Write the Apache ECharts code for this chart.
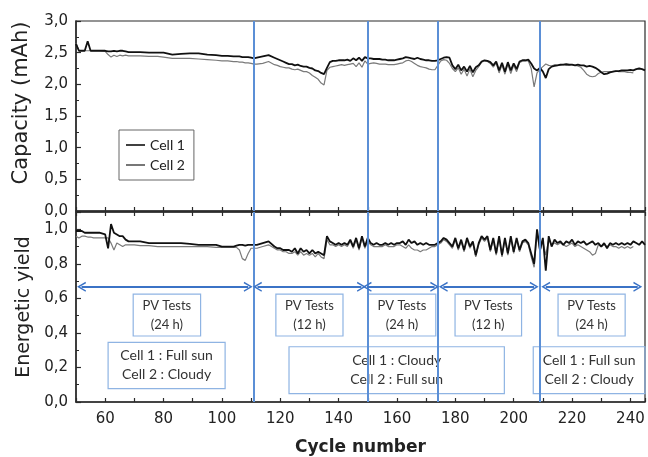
<!DOCTYPE html>
<html>
<head>
<meta charset="utf-8">
<script src="https://cdn.jsdelivr.net/npm/echarts@6/dist/echarts.min.js"></script>
<style>html,body{margin:0;padding:0;background:#fff;overflow:hidden}#c{width:648px;height:457px}</style>
</head>
<body>
<div id="c"></div>
<script>
// ---- data ----
const cycles = [50,51,52,53,54,55,56,58,60,61,62,63,64,65,66,67,68,70,72,75,78,80,83,86,89,92,95,98,100,102,104,105,106,107,108,109,110,111,112,114,116,118,
119,120,121,122,123,124,125,126,127,128,
129,130,131,132,133,134,135,136,137,138,
139,140,141,142,143,144,145,146,147,148,
149,150,151,152,153,154,155,156,157,158,
159,160,161,162,163,164,165,166,167,168,
169,170,171,172,173,174,175,176,177,178,
179,180,181,182,183,184,185,186,187,188,
189,190,191,192,193,194,195,196,197,198,
199,200,201,202,203,204,205,206,207,208,
209,210,211,212,213,214,215,216,217,218,
219,220,221,222,223,224,225,226,227,228,
229,230,231,232,233,234,235,236,237,238,
239,240,241,242,243,244,245];

const capCell1 = [2.64,2.53,2.53,2.53,2.68,2.53,2.53,2.53,2.53,2.52,2.52,2.53,2.52,2.53,2.53,2.52,2.51,2.51,2.51,2.50,2.50,2.50,2.47,2.48,2.49,2.49,2.47,2.46,2.45,2.45,2.44,2.44,2.44,2.43,2.43,2.43,2.42,2.41,2.42,2.44,2.46,2.42,
2.40,2.38,2.36,2.34,2.32,2.32,2.30,2.31,2.29,2.28,
2.28,2.26,2.25,2.22,2.21,2.18,2.16,2.26,2.35,2.37,
2.37,2.38,2.38,2.38,2.39,2.37,2.41,2.38,2.42,2.37,
2.43,2.41,2.41,2.40,2.40,2.40,2.39,2.39,2.38,2.38,
2.38,2.39,2.40,2.41,2.43,2.42,2.41,2.40,2.42,2.40,
2.39,2.38,2.38,2.37,2.37,2.38,2.40,2.42,2.43,2.42,
2.30,2.24,2.31,2.22,2.28,2.20,2.29,2.19,2.27,2.30,
2.36,2.38,2.37,2.35,2.30,2.36,2.22,2.34,2.20,2.35,
2.22,2.33,2.24,2.36,2.38,2.38,2.39,2.33,2.25,2.22,
2.26,2.20,2.10,2.24,2.28,2.29,2.30,2.31,2.31,2.32,
2.31,2.31,2.30,2.31,2.30,2.30,2.28,2.29,2.28,2.26,
2.23,2.19,2.16,2.17,2.19,2.20,2.21,2.21,2.22,2.22,
2.22,2.23,2.22,2.24,2.25,2.24,2.22];

const capCell2 = [2.65,2.53,2.53,2.53,2.53,2.53,2.53,2.53,2.52,2.47,2.43,2.46,2.44,2.46,2.45,2.46,2.45,2.45,2.45,2.44,2.44,2.43,2.41,2.41,2.41,2.40,2.39,2.38,2.37,2.37,2.36,2.36,2.35,2.35,2.34,2.34,2.33,2.32,2.32,2.33,2.36,2.31,
2.30,2.28,2.27,2.26,2.26,2.24,2.23,2.24,2.22,2.20,
2.20,2.18,2.14,2.11,2.08,2.02,1.99,2.22,2.27,2.28,
2.29,2.30,2.31,2.30,2.31,2.32,2.33,2.28,2.34,2.27,
2.37,2.32,2.33,2.34,2.33,2.32,2.32,2.32,2.31,2.31,
2.31,2.32,2.33,2.34,2.37,2.38,2.36,2.33,2.30,2.28,
2.27,2.26,2.24,2.23,2.23,2.30,2.37,2.39,2.38,2.33,
2.25,2.20,2.26,2.16,2.24,2.13,2.24,2.12,2.22,2.28,
2.35,2.37,2.36,2.33,2.27,2.34,2.18,2.31,2.16,2.32,
2.17,2.30,2.20,2.34,2.37,2.37,2.37,2.25,1.96,2.18,
2.24,2.28,2.32,2.30,2.29,2.31,2.30,2.30,2.31,2.30,
2.30,2.31,2.30,2.29,2.27,2.22,2.16,2.13,2.12,2.13,
2.17,2.19,2.20,2.20,2.20,2.20,2.21,2.20,2.20,2.20,
2.19,2.19,2.18,null,null,null,null];

const yieldCell1 = [0.99,0.99,0.99,0.98,0.98,0.98,0.98,0.98,0.97,0.89,1.03,0.98,0.97,0.96,0.96,0.94,0.93,0.93,0.93,0.92,0.92,0.92,0.92,0.92,0.915,0.91,0.91,0.91,0.90,0.90,0.90,0.905,0.91,0.91,0.905,0.91,0.91,0.91,0.91,0.92,0.93,0.90,
0.89,0.89,0.88,0.88,0.88,0.87,0.89,0.86,0.89,0.87,
0.88,0.86,0.88,0.86,0.87,0.86,0.85,0.96,0.93,0.92,
0.91,0.92,0.91,0.92,0.91,0.94,0.90,0.95,0.89,0.96,
0.90,0.95,0.92,0.91,0.92,0.91,0.91,0.92,0.91,0.92,
0.91,0.92,0.92,0.93,0.91,0.94,0.92,0.93,0.91,0.92,
0.91,0.92,0.91,0.91,0.91,0.92,0.93,0.95,0.94,0.92,
0.90,0.95,0.89,0.94,0.88,0.95,0.90,0.93,0.85,0.92,
0.96,0.94,0.96,0.88,0.95,0.86,0.96,0.85,0.95,0.86,
0.96,0.87,0.95,0.88,0.93,0.94,0.92,0.86,0.80,1.00,
0.88,0.95,0.76,0.96,0.90,0.94,0.92,0.93,0.91,0.93,
0.92,0.94,0.91,0.93,0.92,0.93,0.91,0.92,0.93,0.91,
0.92,0.90,0.92,0.89,0.92,0.91,0.92,0.91,0.92,0.91,
0.92,0.91,0.93,0.92,0.91,0.93,0.91];

const yieldCell2 = [0.96,0.95,0.96,0.96,0.955,0.955,0.95,0.95,0.95,0.95,0.92,0.88,0.92,0.91,0.90,0.91,0.91,0.91,0.905,0.905,0.90,0.90,0.90,0.90,0.90,0.90,0.90,0.895,0.895,0.895,0.895,0.895,0.88,0.83,0.82,0.86,0.89,0.89,0.89,0.90,0.91,0.89,
0.88,0.88,0.87,0.87,0.86,0.86,0.87,0.85,0.87,0.85,
0.86,0.85,0.86,0.84,0.86,0.84,0.83,0.94,0.91,0.91,
0.90,0.91,0.90,0.91,0.90,0.93,0.89,0.94,0.88,0.95,
0.89,0.93,0.91,0.90,0.90,0.90,0.90,0.91,0.90,0.90,
0.90,0.91,0.91,0.90,0.89,0.91,0.89,0.88,0.88,0.87,
0.88,0.88,0.89,0.90,0.90,0.91,0.92,0.94,0.93,0.91,
0.89,0.94,0.88,0.93,0.87,0.94,0.89,0.92,0.84,0.91,
0.95,0.93,0.95,0.87,0.94,0.85,0.95,0.84,0.94,0.85,
0.95,0.86,0.94,0.87,0.92,0.93,0.91,0.84,0.78,0.98,
0.87,0.93,0.85,0.94,0.91,0.92,0.91,0.92,0.91,0.90,
0.91,0.92,0.90,0.91,0.90,0.89,0.88,0.87,0.85,0.86,
0.91,0.90,0.91,0.90,0.91,0.90,0.90,0.89,0.90,0.89,
0.90,0.89,0.90,null,null,null,null];

const xTickLabels = [60,80,100,120,140,160,180,200,220,240];
const capTicks = [0,0.5,1,1.5,2,2.5,3];
const yieldTicks = [0,0.2,0.4,0.6,0.8,1.0];

// annotations (in data units)
const phaseBounds = [111,150,174,209];
const arrowLevel = 0.667;
const arrowSpans = [[51.9,109],[112.2,147.8],[149.8,172.9],[175.9,207],[211,242.5]];
const pvBoxes = [[69.6,92.7,'PV Tests\n(24 h)'],[118.5,141.5,'PV Tests\n(12 h)'],[150.1,173.3,'PV Tests\n(24 h)'],[179.9,202.7,'PV Tests\n(12 h)'],[215.2,238.2,'PV Tests\n(24 h)']];
const pvBoxY = [0.624,0.382];
const cellBoxes = [[61.0,101.1,0.345,0.078,'Cell 1 : Full sun\nCell 2 : Cloudy'],[123,196.8,0.32,0.049,'Cell 1 : Cloudy\nCell 2 : Full sun'],[206.7,250,0.32,0.049,'Cell 1 : Full sun\nCell 2 : Cloudy']];

// ---- chart ----
const pairs = ys => cycles.map((c,i)=>[c, ys[i]]);
const fmtComma = v => v.toFixed(1).replace('.', ',');
const AX = '#2a2a2a';
const tickFont = {fontFamily:'DejaVu Sans', fontSize:15, color:'#222'};
const annFont = 'Lato';
const boxBorder = '#8fb4e3';
const arrowColor = '#3b73c6';
const vlineColor = '#5b8fd6';
const chevron = 'path://M0,9 L5,0 L10,9 L8.6,9.6 L5,3 L1.4,9.6 Z';

const chart = echarts.init(document.getElementById('c'), null, {renderer:'canvas'});

function xAxisCfg(grid, opts) {
  return Object.assign({
    gridIndex: grid, type:'value', min:50, max:245, interval:10,
    axisLine:{show:true, onZero:false, lineStyle:{color:AX, width:1.5}},
    axisTick:{show:true, inside:true, length:4, lineStyle:{color:AX, width:1.2}},
    axisLabel:{show:false},
    splitLine:{show:false}
  }, opts);
}

const option = {
  animation:false,
  backgroundColor:'#fff',
  grid:[
    {left:76, top:21, right:3, height:190, show:true, borderColor:AX, borderWidth:1.2, backgroundColor:'transparent'},
    {left:76, top:212, right:3, height:190, show:true, borderColor:AX, borderWidth:1.2, backgroundColor:'transparent'}
  ],
  legend:{
    data:[{name:'Cell 1', icon:'rect', itemStyle:{color:'#111'}}, {name:'Cell 2', icon:'rect', itemStyle:{color:'#555'}}],
    orient:'vertical', left:119, top:130,
    itemWidth:19, itemHeight:1.6, itemGap:6,
    padding:[8,9,8,7],
    borderColor:'#666', borderWidth:1,
    textStyle:{fontFamily:annFont, fontSize:14, color:'#222', lineHeight:14}
  },
  xAxis:[
    xAxisCfg(0, {}),
    xAxisCfg(1, {
      axisLabel:{show:true, margin:10, ...tickFont,
        formatter: v => xTickLabels.includes(v) ? String(v) : ''},
      name:'Cycle number', nameLocation:'middle', nameGap:37,
      nameTextStyle:{fontFamily:'DejaVu Sans', fontSize:17, fontWeight:'bold', color:'#222'}
    }),
    xAxisCfg(1, {position:'top'})
  ],
  yAxis:[
    {gridIndex:0, type:'value', min:0, max:3, interval:0.5,
     axisLine:{show:true, onZero:false, lineStyle:{color:AX, width:1.5}},
     axisTick:{show:true, inside:true, length:5, lineStyle:{color:AX, width:1.2}},
     minorTick:{show:true, splitNumber:2, length:3, lineStyle:{color:AX}},
     axisLabel:{margin:8, ...tickFont, formatter: v => capTicks.some(t=>Math.abs(t-v)<1e-6) ? fmtComma(v) : ''},
     splitLine:{show:false}},
    {gridIndex:1, type:'value', min:0, max:1.1, interval:0.2,
     axisLine:{show:true, onZero:false, lineStyle:{color:AX, width:1.5}},
     axisTick:{show:true, inside:true, length:5, lineStyle:{color:AX, width:1.2}},
     minorTick:{show:true, splitNumber:2, length:3, lineStyle:{color:AX}},
     axisLabel:{margin:8, ...tickFont, formatter: v => yieldTicks.some(t=>Math.abs(t-v)<1e-6) ? fmtComma(v) : ''},
     splitLine:{show:false}}
  ],
  graphic:[
    {type:'text', x:22, y:103, rotation:Math.PI/2,
     style:{text:'Capacity (mAh)', fontFamily:'DejaVu Sans', fontSize:21, fill:'#222', align:'center', verticalAlign:'middle'}},
    {type:'text', x:24, y:307, rotation:Math.PI/2,
     style:{text:'Energetic yield', fontFamily:'DejaVu Sans', fontSize:19, fill:'#222', align:'center', verticalAlign:'middle'}}
  ],
  series:[
    {name:'Cell 2', type:'line', xAxisIndex:0, yAxisIndex:0, data:pairs(capCell2),
     symbol:'none', lineStyle:{color:'#7a7a7a', width:1.2}, itemStyle:{color:'#7a7a7a'}, z:2},
    {name:'Cell 1', type:'line', xAxisIndex:0, yAxisIndex:0, data:pairs(capCell1),
     symbol:'none', lineStyle:{color:'#111', width:1.8}, itemStyle:{color:'#111'}, z:3,
     markLine:{
       silent:true, symbol:['none','none'], animation:false,
       label:{show:false},
       lineStyle:{color:vlineColor, width:2, type:'solid'},
       data: phaseBounds.map(v => ({xAxis:v}))
     }},
    {name:'Cell 2', type:'line', xAxisIndex:1, yAxisIndex:1, data:pairs(yieldCell2), clip:false,
     symbol:'none', lineStyle:{color:'#7a7a7a', width:1.2}, itemStyle:{color:'#7a7a7a'}, z:2,
     markArea:{
       silent:true,
       itemStyle:{color:'rgba(255,255,255,0)', borderColor:boxBorder, borderWidth:1.2},
       label:{show:true, position:'inside', fontFamily:annFont, fontSize:13, color:'#333', lineHeight:19},
       data: pvBoxes.map(b => [
         {xAxis:b[0], yAxis:pvBoxY[0], label:{formatter:b[2]}},
         {xAxis:b[1], yAxis:pvBoxY[1]}
       ]).concat(cellBoxes.map(b => [
         {xAxis:b[0], yAxis:b[2], label:{formatter:b[4], fontSize:14}},
         {xAxis:b[1], yAxis:b[3]}
       ]))
     }},
    {name:'Cell 1', type:'line', xAxisIndex:1, yAxisIndex:1, data:pairs(yieldCell1),
     symbol:'none', lineStyle:{color:'#111', width:1.8}, itemStyle:{color:'#111'}, z:3,
     markLine:{
       silent:true, animation:false, label:{show:false},
       symbol:['none','none'],
       lineStyle:{color:vlineColor, width:2, type:'solid'},
       data: phaseBounds.map(v => ({xAxis:v}))
     }},
    {name:'arrows', type:'line', xAxisIndex:1, yAxisIndex:1, data:[], z:4,
     markLine:{
       silent:true, animation:false, label:{show:false},
       symbol:[chevron, chevron], symbolSize:[10,9],
       lineStyle:{color:arrowColor, width:2, type:'solid'},
       data: arrowSpans.map(s => [
         {coord:[s[0], arrowLevel]},
         {coord:[s[1], arrowLevel]}
       ])
     }}
  ]
};
chart.setOption(option);
</script>
</body>
</html>
